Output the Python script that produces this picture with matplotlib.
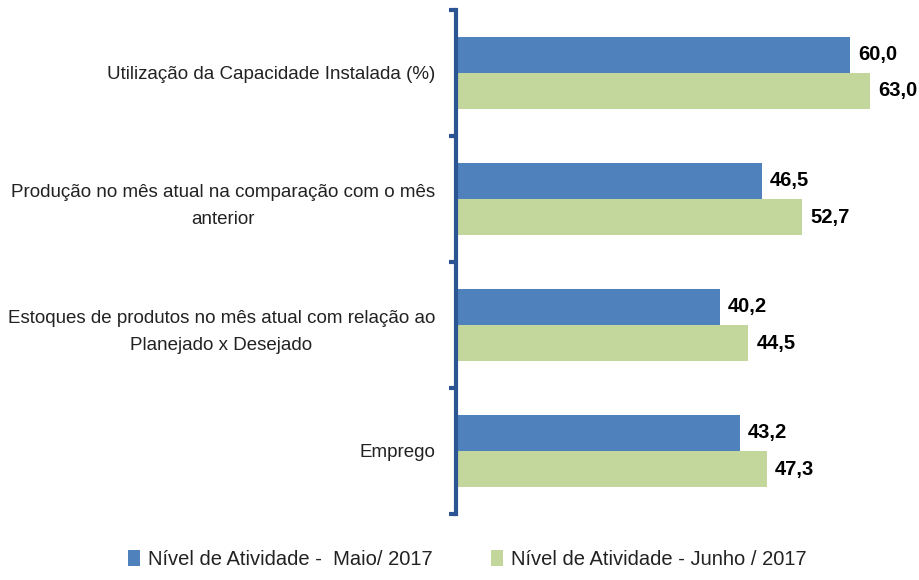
import matplotlib
matplotlib.use("Agg")
import matplotlib.pyplot as plt
import numpy as np
from matplotlib import font_manager

names = {f.name for f in font_manager.fontManager.ttflist}
fam = ['Liberation Sans Narrow', 'DejaVu Sans'] if 'Liberation Sans Narrow' in names else ['Liberation Sans', 'DejaVu Sans']
plt.rcParams['font.family'] = fam

categories = [
    "Utilização da Capacidade Instalada (%)",
    "Produção no mês atual na comparação com o mês\nanterior",
    "Estoques de produtos no mês atual com relação ao\nPlanejado x Desejado",
    "Emprego",
]
series_names = ["Nível de Atividade -  Maio/ 2017", "Nível de Atividade - Junho / 2017"]
maio = [60.0, 46.5, 40.2, 43.2]
junho = [63.0, 52.7, 44.5, 47.3]
colors = ["#4F81BD", "#C3D69B"]

fig = plt.figure(figsize=(9.2, 5.8), dpi=100)
ax = fig.add_axes([0.4957, 0.1138, 0.4999, 0.869])

y = np.arange(len(categories))
h = 0.286
b1 = ax.barh(y - h / 2, maio, height=h, color=colors[0], label=series_names[0])
b2 = ax.barh(y + h / 2, junho, height=h, color=colors[1], label=series_names[1])

for bars, vals in ((b1, maio), (b2, junho)):
    for bar, v in zip(bars, vals):
        ax.text(bar.get_width() + 1.2, bar.get_y() + bar.get_height() / 2,
                f"{v:.1f}".replace(".", ","), va="center", ha="left",
                fontsize=14.5, fontweight="bold", color="black")

ax.set_xlim(0, 70)
ax.set_ylim(len(categories) - 0.5, -0.5)
ax.set_yticks(y)
ax.set_yticklabels(categories, fontsize=13.5, color="#222222", ha="right",
                   multialignment="center", linespacing=1.75)
ax.tick_params(axis="y", which="major", length=0, pad=15)
ax.set_yticks(np.arange(-0.5, len(categories)), minor=True)
ax.tick_params(axis="y", which="minor", length=5, width=3, color="#2C5593", direction="out")
ax.set_xticks([])
for s in ["top", "right", "bottom"]:
    ax.spines[s].set_visible(False)
ax.spines["left"].set_color("#2C5593")
ax.spines["left"].set_linewidth(3)

leg = fig.legend(handles=[b1, b2], labels=series_names, loc="lower center",
                 bbox_to_anchor=(0.508, -0.012), ncol=2, frameon=False, fontsize=14.5,
                 handlelength=0.6, handleheight=0.9, handletextpad=0.4, columnspacing=2.9)
for t in leg.get_texts():
    t.set_color("#222222")

fig.savefig("out.png", dpi=100)
